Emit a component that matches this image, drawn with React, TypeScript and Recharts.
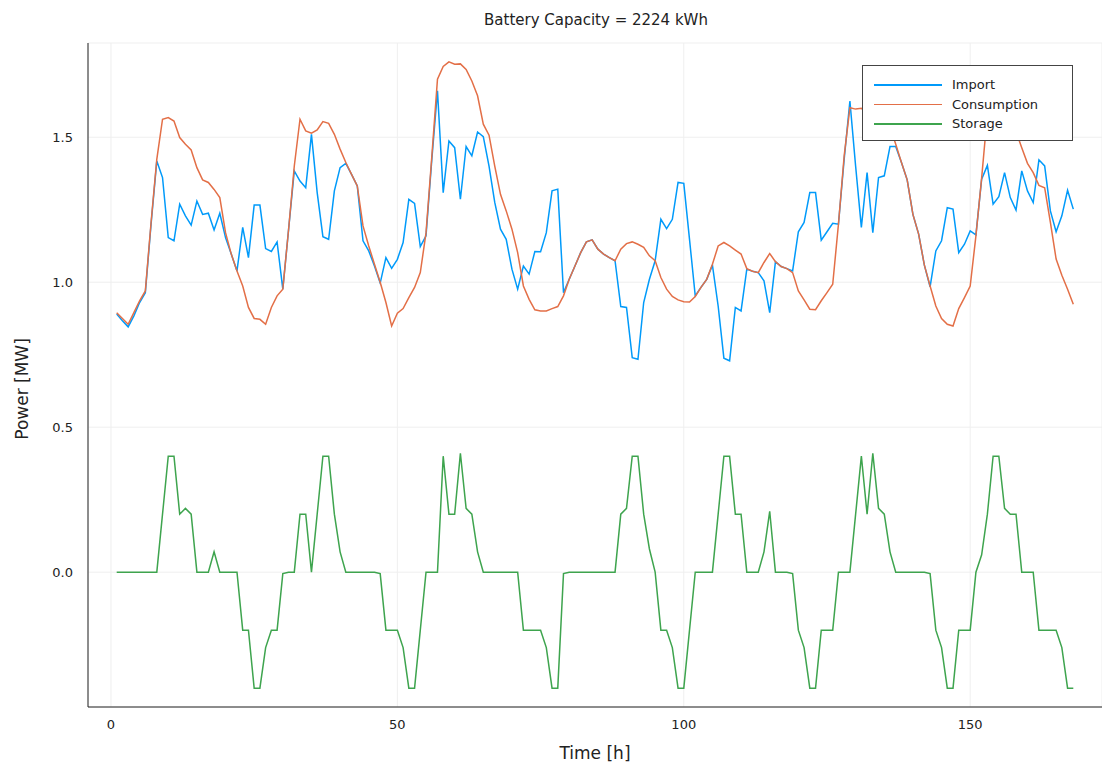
import { LineChart, Line, XAxis, YAxis, CartesianGrid, Legend } from 'recharts';

// hourly values (MW)
const consumption = [
  0.895, 0.875, 0.855, 0.895, 0.936, 0.97, 1.206, 1.424, 1.562, 1.568, 1.556, 1.499, 1.476, 1.456, 1.395, 1.353,
  1.344, 1.32, 1.292, 1.171, 1.097, 1.039, 0.987, 0.913, 0.875, 0.872, 0.855, 0.913, 0.953, 0.976, 1.18, 1.4,
  1.562, 1.522, 1.514, 1.525, 1.554, 1.548, 1.51, 1.459, 1.413, 1.372, 1.332, 1.194, 1.125, 1.062, 1.0, 0.93,
  0.849, 0.893, 0.909, 0.947, 0.982, 1.033, 1.17, 1.43, 1.7, 1.744, 1.76, 1.752, 1.753, 1.734, 1.694, 1.643,
  1.545, 1.507, 1.4, 1.303, 1.246, 1.183, 1.102, 0.987, 0.941, 0.905, 0.901, 0.901, 0.909, 0.916, 0.953, 1.01,
  1.056, 1.102, 1.139, 1.146, 1.114, 1.097, 1.085, 1.074, 1.114, 1.133, 1.139, 1.131, 1.12, 1.091, 1.074, 1.016,
  0.976, 0.951, 0.939, 0.933, 0.932, 0.951, 0.982, 1.01, 1.062, 1.125, 1.137, 1.125, 1.111, 1.097, 1.047, 1.038,
  1.033, 1.068, 1.099, 1.071, 1.054, 1.047, 1.033, 0.97, 0.939, 0.907, 0.905, 0.936, 0.964, 0.993, 1.2, 1.436,
  1.602, 1.597, 1.6, 1.58, 1.58, 1.58, 1.567, 1.538, 1.476, 1.413, 1.353, 1.234, 1.166, 1.059, 0.987, 0.918,
  0.875, 0.855, 0.849, 0.909, 0.947, 0.987, 1.16, 1.36, 1.58, 1.67, 1.7, 1.64, 1.58, 1.52, 1.464, 1.41,
  1.378, 1.334, 1.326, 1.206, 1.08, 1.024, 0.976, 0.924,
];

const importPower = [
  0.89, 0.867, 0.846, 0.884, 0.93, 0.964, 1.2, 1.418, 1.361, 1.154, 1.143, 1.269, 1.229, 1.197, 1.28, 1.234,
  1.238, 1.18, 1.238, 1.154, 1.097, 1.039, 1.189, 1.085, 1.266, 1.266, 1.116, 1.106, 1.139, 0.976, 1.18, 1.384,
  1.349, 1.326, 1.51, 1.309, 1.157, 1.148, 1.315, 1.395, 1.41, 1.372, 1.332, 1.143, 1.108, 1.056, 0.997, 1.085,
  1.048, 1.079, 1.137, 1.286, 1.272, 1.123, 1.16, 1.42, 1.66, 1.309, 1.487, 1.464, 1.286, 1.468, 1.436, 1.518,
  1.502, 1.4, 1.275, 1.183, 1.148, 1.045, 0.976, 1.056, 1.028, 1.106, 1.105, 1.171, 1.315, 1.321, 0.964, 1.01,
  1.056, 1.102, 1.139, 1.146, 1.114, 1.097, 1.085, 1.074, 0.916, 0.913, 0.74, 0.734, 0.93, 1.01, 1.074, 1.217,
  1.185, 1.217, 1.344, 1.341, 1.148, 0.953, 0.982, 1.01, 1.059, 0.918, 0.738, 0.729, 0.913, 0.901, 1.045, 1.038,
  1.033, 1.005, 0.895, 1.071, 1.054, 1.047, 1.039, 1.174, 1.206, 1.309, 1.309, 1.145, 1.174, 1.203, 1.2, 1.424,
  1.625, 1.4, 1.189, 1.378, 1.171, 1.361, 1.367, 1.468, 1.468, 1.413, 1.353, 1.234, 1.166, 1.059, 0.984, 1.108,
  1.143, 1.257, 1.252, 1.102, 1.131, 1.177, 1.163, 1.355, 1.403, 1.269, 1.295, 1.378, 1.292, 1.249, 1.384, 1.315,
  1.275, 1.422, 1.401, 1.246, 1.174, 1.229, 1.317, 1.252,
];

const storage = [
  0, 0, 0, 0, 0, 0, 0, 0, 0.2, 0.4, 0.4, 0.2, 0.22, 0.2, 0, 0,
  0, 0.07, 0, 0, 0, 0, -0.2, -0.2, -0.4, -0.4, -0.26, -0.2, -0.2, -0.005, 0, 0,
  0.2, 0.2, 0, 0.2, 0.4, 0.4, 0.2, 0.07, 0, 0, 0, 0, 0, 0, -0.005, -0.2,
  -0.2, -0.2, -0.26, -0.4, -0.4, -0.2, 0, 0, 0, 0.4, 0.2, 0.2, 0.41, 0.22, 0.2, 0.07,
  0, 0, 0, 0, 0, 0, 0, -0.2, -0.2, -0.2, -0.2, -0.26, -0.4, -0.4, -0.005, 0,
  0, 0, 0, 0, 0, 0, 0, 0, 0.2, 0.22, 0.4, 0.4, 0.2, 0.08, 0, -0.2,
  -0.2, -0.26, -0.4, -0.4, -0.2, 0, 0, 0, 0, 0.2, 0.4, 0.4, 0.2, 0.2, 0, 0,
  0, 0.07, 0.21, 0, 0, 0, -0.005, -0.2, -0.26, -0.4, -0.4, -0.2, -0.2, -0.2, 0, 0,
  0, 0.2, 0.4, 0.2, 0.41, 0.22, 0.2, 0.07, 0, 0, 0, 0, 0, 0, -0.005, -0.2,
  -0.26, -0.4, -0.4, -0.2, -0.2, -0.2, 0, 0.06, 0.2, 0.4, 0.4, 0.22, 0.2, 0.2, 0, 0,
  0, -0.2, -0.2, -0.2, -0.2, -0.26, -0.4, -0.4,
];

const hours = consumption.map((_, i) => i + 1);
const xTicks = [0, 50, 100, 150];
const yTicks = [0, 0.5, 1, 1.5];

const SERIES = [
  { key: 'imp', name: 'Import', color: '#009AFA' },
  { key: 'cons', name: 'Consumption', color: '#E36F47' },
  { key: 'sto', name: 'Storage', color: '#3EA44E' },
];

const data = hours.map((t, i) => ({
  t,
  imp: importPower[i],
  cons: consumption[i],
  sto: storage[i],
}));

const FONT = '"DejaVu Sans", sans-serif';
const TEXT = '#222';

function PlotLegend() {
  return (
    <div
      style={{
        width: 211,
        height: 76,
        boxSizing: 'border-box',
        border: '1px solid #444',
        background: '#fff',
        padding: '9px 0 0 11px',
      }}
    >
      {SERIES.map((s) => (
        <div key={s.key} style={{ display: 'flex', alignItems: 'center', height: 19.5 }}>
          <div style={{ width: 68, height: 1.5, background: s.color }} />
          <span style={{ marginLeft: 10, fontSize: 13, color: TEXT, fontFamily: FONT }}>{s.name}</span>
        </div>
      ))}
    </div>
  );
}

// rotated y label, centred a little below the plot middle like the original
function YLabel() {
  return (
    <text x={22} y={389} transform="rotate(-90 22 389)" textAnchor="middle" dominantBaseline="central" fontSize={17} fill={TEXT}>
      Power [MW]
    </text>
  );
}

export default function App() {
  return (
    <div style={{ position: 'absolute', left: 0, top: 0, width: 1102, height: 767, background: '#fff', fontFamily: FONT }}>
      <div
        style={{
          position: 'absolute',
          left: 88,
          top: 11,
          width: 1016,
          textAlign: 'center',
          fontSize: 15,
          color: TEXT,
        }}
      >
        Battery Capacity = 2224 kWh
      </div>
      <LineChart width={1102} height={767} data={data} margin={{ top: 43, right: 0, bottom: 0, left: 0 }}>
        <CartesianGrid stroke="#efefef" strokeWidth={1} />
        <XAxis
          dataKey="t"
          type="number"
          domain={[-4.01, 173.01]}
          ticks={xTicks}
          allowDataOverflow
          height={60}
          tickLine={false}
          tickSize={6}
          tickMargin={7}
          axisLine={{ stroke: TEXT, strokeWidth: 1 }}
          tick={{ fontSize: 13, fill: TEXT }}
          label={{ value: 'Time [h]', position: 'insideBottom', offset: 8, fontSize: 17, fill: TEXT }}
        />
        <YAxis
          type="number"
          domain={[-0.465, 1.825]}
          ticks={yTicks}
          allowDataOverflow
          width={88}
          tickLine={false}
          tickSize={6}
          tickMargin={9}
          axisLine={{ stroke: TEXT, strokeWidth: 1 }}
          tick={{ fontSize: 13, fill: TEXT }}
          tickFormatter={(v: number) => v.toFixed(1)}
          label={<YLabel />}
        />
        <Legend
          layout="vertical"
          align="center"
          verticalAlign="middle"
          content={() => <PlotLegend />}
          wrapperStyle={{ left: 862, top: 65, width: 211, height: 76 }}
        />
        {SERIES.map((s) => (
          <Line
            key={s.key}
            type="linear"
            dataKey={s.key}
            name={s.name}
            stroke={s.color}
            strokeWidth={1.5}
            dot={false}
            activeDot={false}
            isAnimationActive={false}
          />
        ))}
      </LineChart>
    </div>
  );
}
